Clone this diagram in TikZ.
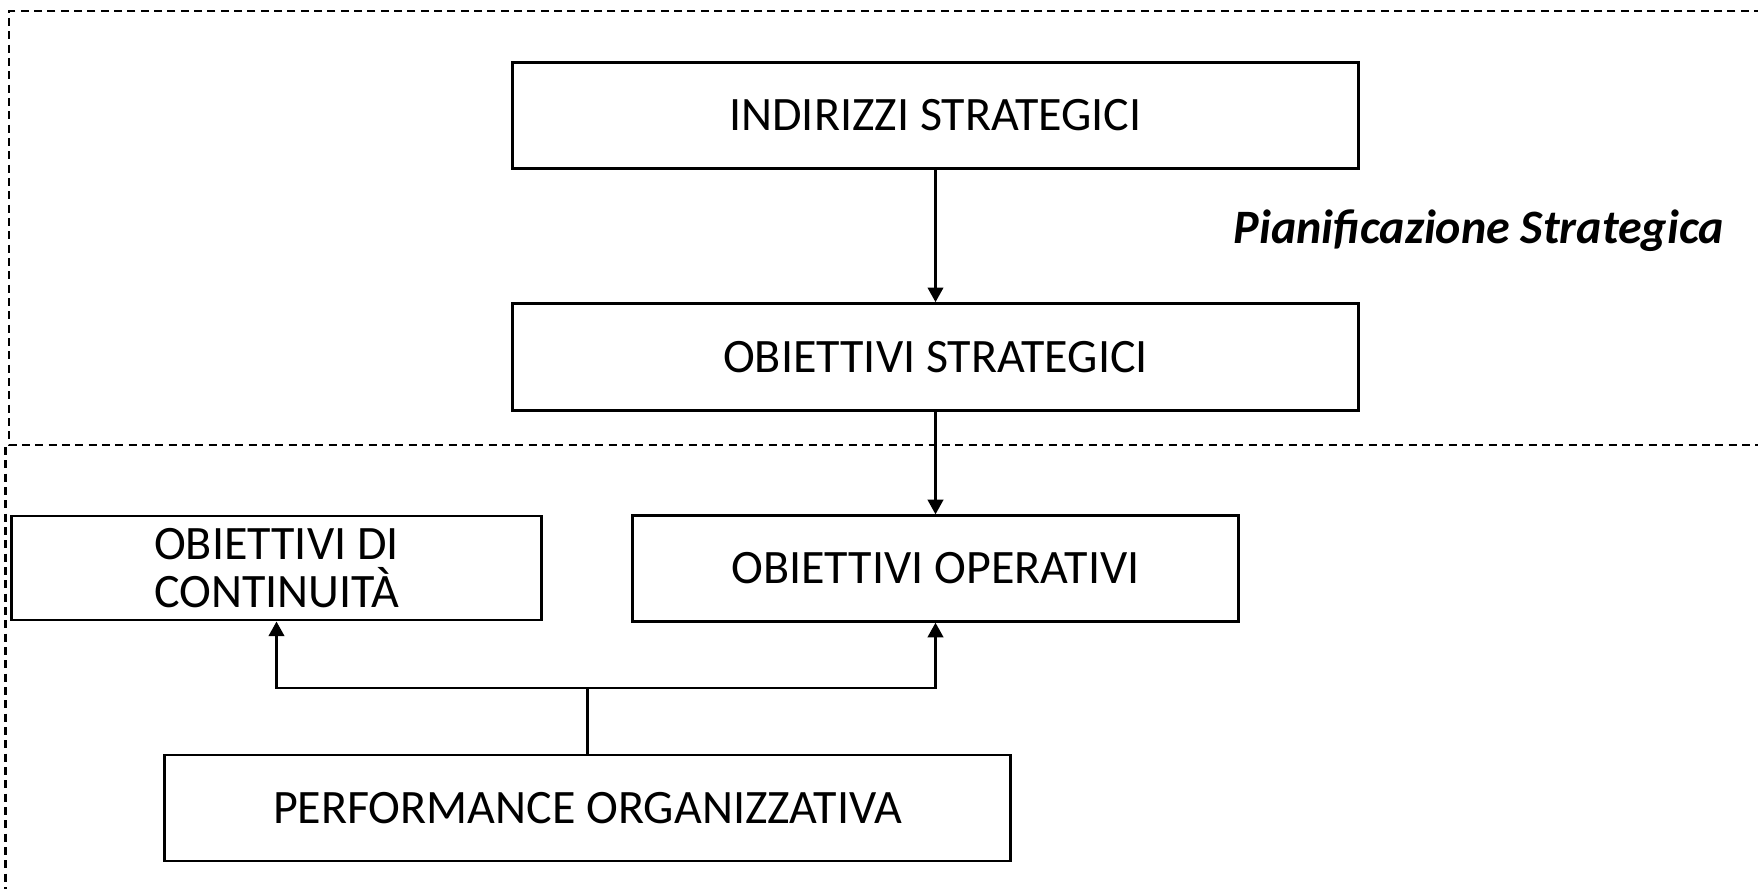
\documentclass[tikz,border=0pt]{standalone}
\usepackage{fontspec}
\setmainfont{Carlito}
\usetikzlibrary{arrows.meta}
\begin{document}
\begin{tikzpicture}[x=0.75pt,y=-0.75pt,
  box/.style={draw, line width=2.2pt, inner sep=0pt, font=\fontsize{36}{36.5}\selectfont},
  arr/.style={line width=2.2pt, -{Triangle[length=11pt,width=11.5pt]}},
  conn/.style={line width=2.2pt},
  dashline/.style={line width=1.8pt, dash pattern=on 6pt off 4pt}]
\useasboundingbox (0,0) rectangle (1758,888);
\node[box, minimum width=635pt, minimum height=80pt] (ind) at (935.5,115.5) {INDIRIZZI STRATEGICI};
\node[box, minimum width=635pt, minimum height=80pt] (str) at (935.5,357) {OBIETTIVI STRATEGICI};
\node[box, minimum width=398pt, minimum height=78pt, align=left] (cont) at (276.5,568) {OBIETTIVI DI\\CONTINUITÀ};
\node[box, minimum width=454pt, minimum height=79pt] (ope) at (935.5,568.5) {OBIETTIVI OPERATIVI};
\node[box, minimum width=634pt, minimum height=79.5pt] (perf) at (587.5,808) {PERFORMANCE ORGANIZZATIVA};
\node[anchor=base east, inner sep=0pt, font=\fontsize{36}{36.5}\selectfont\bfseries\itshape] (pian) at (1724,243) {Pianificazione Strategica};
\coordinate (j) at (587.5,688);
\draw[arr] (ind.south) -- (str.north);
\draw[arr] (str.south) -- (ope.north);
\draw[conn] (perf.north) -- (j);
\draw[arr] (j) -| (cont.south);
\draw[arr] (j) -| (ope.south);
\coordinate (tr) at (1762,11);
\coordinate (tl) at (9,11);
\coordinate (bl) at (9,445);
\coordinate (br) at (1762,445);
\coordinate (ll1) at (5.6,447);
\coordinate (ll2) at (5.6,892);
\draw[dashline] (tr) -- (tl) -- (bl) -- (br);
\draw[dashline] (ll1) -- (ll2);
\end{tikzpicture}
\end{document}
